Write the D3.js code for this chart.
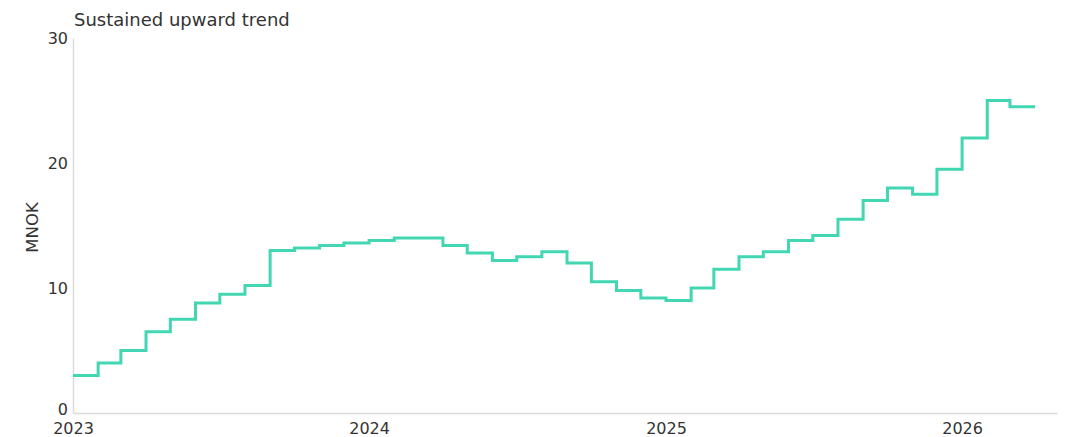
<!DOCTYPE html>
<html>
<head>
<meta charset="utf-8">
<script src="https://cdn.jsdelivr.net/npm/d3@7"></script>
<style>
  body { margin: 0; background: #fff; }
  svg text { font-family: "DejaVu Sans", sans-serif; fill: #333; }
  .domain { stroke: #dcdcdc; stroke-width: 1.5; }
</style>
</head>
<body>
<div id="chart"></div>
<script>
// monthly values, MNOK
const months = [
  '2023-01', '2023-02', '2023-03', '2023-04', '2023-05', '2023-06',
  '2023-07', '2023-08', '2023-09', '2023-10', '2023-11', '2023-12',
  '2024-01', '2024-02', '2024-03', '2024-04', '2024-05', '2024-06',
  '2024-07', '2024-08', '2024-09', '2024-10', '2024-11', '2024-12',
  '2025-01', '2025-02', '2025-03', '2025-04', '2025-05', '2025-06',
  '2025-07', '2025-08', '2025-09', '2025-10', '2025-11', '2025-12',
  '2026-01', '2026-02', '2026-03', '2026-04'
]
const values = [
  3, 4, 5, 6.5, 7.5, 8.8,
  9.5, 10.2, 13, 13.2, 13.4, 13.6,
  13.8, 14, 14, 13.4, 12.8, 12.2,
  12.5, 12.9, 12, 10.5, 9.8, 9.2,
  9, 10, 11.5, 12.5, 12.9, 13.8,
  14.2, 15.5, 17, 18, 17.5, 19.5,
  22, 25, 24.5, 24.5
]
const yTicks = [0, 10, 20, 30]
const xTicks = ['2023', '2024', '2025', '2026']
const title = 'Sustained upward trend'
const yLabel = 'MNOK'

let margin = { top: 38, left: 73, right: 9, bottom: 24 },
    width = 1066,
    height = 437

let parseMonth = d3.timeParse('%Y-%m')
let data = months.map((m, i) => ({ date: parseMonth(m), value: values[i] }))

let svg = d3.select('#chart')
    .append('svg')
    .attr('width', width)
    .attr('height', height)

let x = d3.scaleTime()
    .domain([parseMonth('2023-01'), new Date(2026, 3, 28)])
    .range([margin.left, width - margin.right])

let y = d3.scaleLinear()
    .domain([0, 30])
    .range([height - margin.bottom, margin.top])

// x axis
let xAxis = svg.append('g')
    .attr('transform', `translate(0,${height - margin.bottom})`)
    .call(d3.axisBottom(x)
        .tickValues(xTicks.map(d => d3.timeParse('%Y')(d)))
        .tickFormat(d3.timeFormat('%Y'))
        .tickSize(0)
        .tickPadding(10))
xAxis.selectAll('text').style('font-size', '16px')

// y axis
let yAxis = svg.append('g')
    .attr('transform', `translate(${margin.left},0)`)
    .call(d3.axisLeft(y)
        .tickValues(yTicks)
        .tickSize(0)
        .tickPadding(5))
yAxis.selectAll('text').style('font-size', '16px')
// lift the zero label a little so it clears the first year label
yAxis.selectAll('.tick text').filter(d => d === 0).attr('dy', '0.1em')

// step line
let line = d3.line()
    .x(d => x(d.date))
    .y(d => y(d.value))
    .curve(d3.curveStepAfter)

svg.append('path')
    .datum(data)
    .attr('fill', 'none')
    .attr('stroke', '#42d6b2')
    .attr('stroke-width', 3)
    .attr('d', line)

// labels
svg.append('text')
    .attr('x', margin.left + 1)
    .attr('y', 26)
    .style('font-size', '18px')
    .text(title)

svg.append('text')
    .attr('transform', `translate(38,${(margin.top + height - margin.bottom) / 2 + 2}) rotate(-90)`)
    .attr('text-anchor', 'middle')
    .style('font-size', '16.5px')
    .text(yLabel)
</script>
</body>
</html>
